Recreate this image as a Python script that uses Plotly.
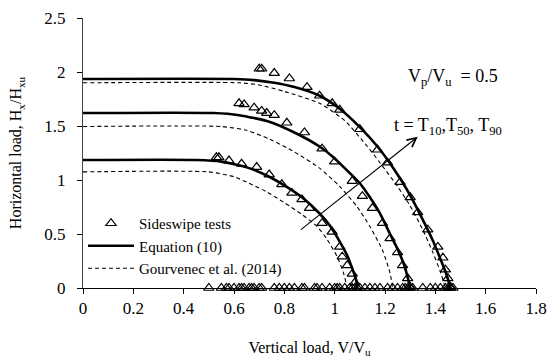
import plotly.graph_objects as go

# ---------------- data ----------------
# Equation (10) curves (solid)
eq_top_v = [0.0, 0.60, 0.68, 0.76, 0.84, 0.94, 1.02, 1.10, 1.17, 1.23, 1.29, 1.34, 1.39, 1.42, 1.445, 1.46]
eq_top_h = [1.935, 1.935, 1.925, 1.90, 1.86, 1.78, 1.66, 1.49, 1.31, 1.12, 0.90, 0.68, 0.44, 0.27, 0.12, 0.0]
eq_mid_v = [0.0, 0.52, 0.62, 0.74, 0.84, 0.94, 0.99, 1.04, 1.10, 1.14, 1.18, 1.22, 1.25, 1.275, 1.29, 1.30]
eq_mid_h = [1.62, 1.62, 1.60, 1.54, 1.44, 1.31, 1.22, 1.11, 0.97, 0.84, 0.69, 0.50, 0.36, 0.22, 0.10, 0.0]
eq_bot_v = [0.0, 0.45, 0.55, 0.66, 0.74, 0.80, 0.87, 0.94, 0.98, 1.02, 1.05, 1.07, 1.085, 1.09]
eq_bot_h = [1.185, 1.185, 1.17, 1.11, 1.03, 0.95, 0.84, 0.69, 0.58, 0.43, 0.30, 0.18, 0.08, 0.0]

# Gourvenec et al. (2014) curves (dashed)
gv_top_v = [0.0, 0.62, 0.70, 0.80, 0.94, 1.04, 1.13, 1.18, 1.25, 1.30, 1.35, 1.39, 1.42, 1.44]
gv_top_h = [1.90, 1.90, 1.88, 1.82, 1.71, 1.55, 1.31, 1.16, 0.94, 0.76, 0.54, 0.33, 0.15, 0.0]
gv_mid_v = [0.0, 0.55, 0.65, 0.74, 0.84, 0.94, 1.02, 1.09, 1.14, 1.19, 1.22, 1.23]
gv_mid_h = [1.495, 1.495, 1.46, 1.38, 1.26, 1.11, 0.94, 0.75, 0.57, 0.35, 0.14, 0.0]
gv_bot_v = [0.0, 0.50, 0.60, 0.66, 0.73, 0.80, 0.87, 0.93, 0.97, 1.01, 1.035, 1.05]
gv_bot_h = [1.075, 1.075, 1.03, 0.97, 0.89, 0.79, 0.68, 0.57, 0.45, 0.29, 0.14, 0.0]

# Sideswipe tests (triangles)
sw_top_v = [0.70, 0.71, 0.76, 0.82, 0.89, 0.94, 0.99, 1.02, 1.10, 1.17, 1.21, 1.26, 1.30, 1.33, 1.37, 1.41, 1.43, 1.44, 1.45, 1.46]
sw_top_h = [2.03, 2.03, 1.99, 1.94, 1.86, 1.78, 1.71, 1.65, 1.47, 1.28, 1.16, 0.98, 0.84, 0.70, 0.54, 0.38, 0.28, 0.17, 0.09, 0.01]
sw_mid_v = [0.62, 0.64, 0.68, 0.71, 0.73, 0.76, 0.81, 0.88, 0.95, 1.00, 1.07, 1.11, 1.15, 1.19, 1.22, 1.25, 1.27, 1.29, 1.30]
sw_mid_h = [1.71, 1.70, 1.67, 1.64, 1.62, 1.60, 1.53, 1.44, 1.29, 1.17, 0.99, 0.85, 0.74, 0.60, 0.46, 0.33, 0.21, 0.09, 0.01]
sw_bot_v = [0.53, 0.54, 0.58, 0.63, 0.69, 0.74, 0.79, 0.83, 0.87, 0.90, 0.95, 0.99, 1.02, 1.03, 1.05, 1.07, 1.08]
sw_bot_h = [1.21, 1.21, 1.18, 1.15, 1.12, 1.05, 0.96, 0.88, 0.82, 0.74, 0.60, 0.52, 0.38, 0.29, 0.21, 0.13, 0.05]
sw_base_v = [0.50, 0.55, 0.57, 0.58, 0.60, 0.62, 0.63, 0.64, 0.66, 0.67, 0.68, 0.70, 0.71,
             0.76, 0.78, 0.80, 0.82, 0.84, 0.87, 0.88, 0.92, 0.93, 0.95, 0.98, 1.00, 1.01,
             1.02, 1.04, 1.06, 1.07, 1.08, 1.09, 1.10, 1.12, 1.14, 1.16, 1.18, 1.21, 1.23,
             1.25, 1.27, 1.28, 1.29, 1.30, 1.31, 1.35, 1.38, 1.40, 1.42, 1.44, 1.45, 1.46, 1.47]
sw_base_h = [0.0] * len(sw_base_v)

x_ticks = [0, 0.2, 0.4, 0.6, 0.8, 1, 1.2, 1.4, 1.6, 1.8]
y_ticks = [0, 0.5, 1, 1.5, 2, 2.5]

# annotation geometry
arrow_tail = (0.86, 0.53)
arrow_head = (1.33, 1.40)

FONT = "Liberation Serif, 'Times New Roman', serif"

fig = go.Figure()

sw_v = sw_top_v + sw_mid_v + sw_bot_v + sw_base_v
sw_h = sw_top_h + sw_mid_h + sw_bot_h + sw_base_h
fig.add_trace(go.Scatter(x=sw_v, y=sw_h, mode="markers", name="Sideswipe tests",
                         marker=dict(symbol="triangle-up-open", size=9, color="black",
                                     line=dict(width=1.2, color="black")),
                         cliponaxis=False))

for i, (v, h) in enumerate([(eq_top_v, eq_top_h), (eq_mid_v, eq_mid_h), (eq_bot_v, eq_bot_h)]):
    fig.add_trace(go.Scatter(x=v, y=h, mode="lines", name="Equation (10)",
                             line=dict(color="black", width=2.6, shape="spline", smoothing=0.6),
                             showlegend=(i == 0)))

for i, (v, h) in enumerate([(gv_top_v, gv_top_h), (gv_mid_v, gv_mid_h), (gv_bot_v, gv_bot_h)]):
    fig.add_trace(go.Scatter(x=v, y=h, mode="lines", name="Gourvenec et al. (2014)",
                             line=dict(color="black", width=1.1, dash="4px,3px", shape="spline", smoothing=0.6),
                             showlegend=(i == 0)))

fig.add_annotation(x=arrow_head[0], y=arrow_head[1], ax=arrow_tail[0], ay=arrow_tail[1],
                   xref="x", yref="y", axref="x", ayref="y", text="", showarrow=True,
                   arrowhead=5, arrowsize=1.6, arrowwidth=1.1, arrowcolor="black")
fig.add_annotation(x=1.47, y=1.95, xref="x", yref="y", showarrow=False,
                   text="V<sub>p</sub>/V<sub>u</sub>  = 0.5",
                   font=dict(family=FONT, size=18, color="black"))
fig.add_annotation(x=1.45, y=1.50, xref="x", yref="y", showarrow=False,
                   text="t = T<sub>10</sub>,T<sub>50</sub>, T<sub>90</sub>",
                   font=dict(family=FONT, size=18, color="black"))

fig.update_layout(
    width=553, height=363,
    margin=dict(l=83, r=17, t=18, b=75),
    paper_bgcolor="white", plot_bgcolor="white",
    font=dict(family=FONT, size=17, color="black"),
    showlegend=True,
    legend=dict(x=0.0, y=0.30, xanchor="left", yanchor="top",
                bgcolor="rgba(0,0,0,0)", font=dict(family=FONT, size=15),
                tracegroupgap=0, itemwidth=46),
)
fig.update_xaxes(range=[0, 1.8], tickvals=x_ticks, ticktext=[f"{t:g}" for t in x_ticks],
                 tickfont=dict(family=FONT, size=17), automargin=False,
                 showgrid=False, zeroline=False, showline=True, linecolor="black", linewidth=1,
                 ticks="outside", ticklen=5, tickcolor="black",
                 title=dict(text="Vertical load, V/V<sub>u</sub>", font=dict(family=FONT, size=16), standoff=24))
fig.update_yaxes(range=[0, 2.5], tickvals=y_ticks, ticktext=[f"{t:g}" for t in y_ticks],
                 tickfont=dict(family=FONT, size=17), ticklabelstandoff=8, automargin=False,
                 showgrid=False, zeroline=False, showline=True, linecolor="#444", linewidth=1.2,
                 ticks="outside", ticklen=5, tickcolor="black",
                 title=dict(text="Horizontal load, H<sub>x</sub>/H<sub>xu</sub>", font=dict(family=FONT, size=16), standoff=18))

fig.write_html("out.html")
